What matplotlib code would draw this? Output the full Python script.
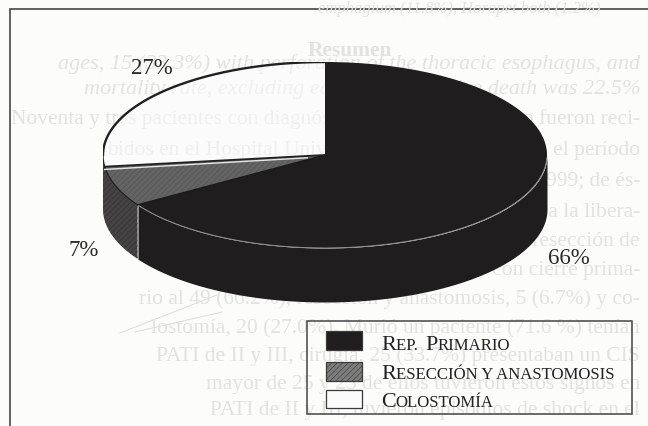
# coding=utf-8
import numpy as np
import matplotlib
matplotlib.use("Agg")
import matplotlib.pyplot as plt
from matplotlib.patches import Rectangle

W, H = 648, 426

# pie data, anticlockwise from the top of the ellipse
pie_names = ["Colostomía", "Resección y anastomosis", "Rep. Primario"]
pie_values = [27, 7, 66]
pie_colors = ["#fbfbfb", "#646464", "#1f1d1d"]

legend_rows = [
    [("R", 1), ("EP. ", .76), ("P", 1), ("RIMARIO", .76)],
    [("R", 1), ("ESECCIÓN Y ANASTOMOSIS", .76)],
    [("C", 1), ("OLOSTOMÍA", .76)],
]
legend_colors = ["#1f1d1d", "#7c7c7c", "#fbfbfb"]

# page behind showing through the scan
ghost_lines = [
    (600, 13, 12, "emphagium (11.8%), Horapet both (1.2%)", "italic", "normal"),
    (392, 56, 15.5, "Resumen", "normal", "bold"),
    (640, 69, 16, "ages, 15 (33.3%) with perforation of the thoracic esophagus, and", "italic", "normal"),
    (640, 94, 16, "mortality rate, excluding early postoperative death was 22.5%", "italic", "normal"),
    (640, 124, 15.5, "Noventa y tres pacientes con diagnóstico de trauma colónico fueron reci-", "normal", "normal"),
    (640, 155, 15.5, "bidos en el Hospital Universitario de Manizales, en el período", "normal", "normal"),
    (640, 186, 15.5, "comprendido entre enero de 1990 y diciembre de 1999; de és-", "normal", "normal"),
    (640, 217, 15.5, "tos, 74 (77.9%) fueron llevados a cirugía para la libera-", "normal", "normal"),
    (640, 246, 15.5, "ción quirúrgica, para manejo de laparotomía y resección de", "normal", "normal"),
    (640, 275, 15.5, "laminitana, que requirió manejo con cierre prima-", "normal", "normal"),
    (640, 304, 15.5, "rio al 49 (66.2%), resección y anastomosis, 5 (6.7%) y co-", "normal", "normal"),
    (640, 333, 15.5, "lostomía, 20 (27.0%). Murió un paciente (71.6 %) tenían", "normal", "normal"),
    (640, 361, 15.5, "PATI de II y III, cirugía, 25 (33.7%) presentaban un CIS", "normal", "normal"),
    (640, 389, 15.5, "mayor de 25 y 25 de ellos tuvieron estos signos en", "normal", "normal"),
    (640, 415, 15.5, "PATI de II y III, tuvieron episodios de shock en el", "normal", "normal"),
]

fig = plt.figure(figsize=(W / 100, H / 100), dpi=100, facecolor="#fcfcfb")
plt.rcParams["hatch.linewidth"] = 0.4
plt.rcParams["font.family"] = ["Liberation Serif", "DejaVu Serif"]

# overlay in pixel coordinates for frame, text and legend
bg = fig.add_axes([0, 0, 1, 1])
bg.set_xlim(0, W)
bg.set_ylim(H, 0)
bg.axis("off")

for x, y, size, s, style, weight in ghost_lines:
    bg.text(x, y, s, fontsize=size, color="#e2e2e0", style=style, weight=weight,
            ha="right", va="baseline")

# stray hairlines of the scan under the pie
bg.plot([120, 217], [333, 295], color="#dcdcdc", lw=0.7)
bg.plot([135, 222], [332, 312], color="#dcdcdc", lw=0.7)

bg.plot([648, 10, 10], [9, 9, 426], color="#555555", lw=1.3, solid_joinstyle="miter")

# pie axes, ellipse centre (325,155) half axes 222 x 93, wall 54 px high
cx, cy, a, b, depth_px = 325, 155, 222, 93, 54
depth = depth_px / b
left, right, top, bottom = cx - a, cx + a, cy - b, cy + b + depth_px
ax = fig.add_axes([left / W, 1 - bottom / H, (right - left) / W, (bottom - top) / H])
ax.patch.set_alpha(0)

wedges, _ = ax.pie(pie_values, colors=pie_colors, startangle=90, counterclock=True, radius=1,
                   wedgeprops={"linewidth": 0})
ax.set_aspect("auto")
ax.set_xlim(-1, 1)
ax.set_ylim(-1 - depth, 1)
ax.axis("off")
wedges[0].set_alpha(0.55)
wedges[1].set_hatch("//////")
wedges[1].set_edgecolor("#505050")

edges = 90 + np.cumsum([0] + pie_values) * 3.6


def arc(t0, t1):
    t = np.radians(np.linspace(t0, t1, 200))
    return np.cos(t), np.sin(t)


# side wall
x, y = arc(180, edges[2])
ax.fill_between(x, y, y - depth, color="#454343", hatch="//////", edgecolor="#2e2e2e", lw=0, zorder=2)
x, y = arc(edges[2], 360)
ax.fill_between(x, y, y - depth, color="#1f1d1d", lw=0, zorder=2)

# thin light lines left on the scan, along the front rim and the wedge boundary
x, y = arc(edges[2], 358)
ax.plot(x, y, color="#8e8e8e", lw=0.7, zorder=3)
x, y = arc(180, edges[2])
ax.plot(x, y, color="#202020", lw=0.9, zorder=3)
xb, yb = arc(edges[2], edges[2] + 1e-6)
ax.plot([xb[0], xb[0]], [yb[0], yb[0] - depth], color="#8e8e8e", lw=0.7, zorder=3)
ax.plot([0, xb[0]], [0, yb[0]], color="#1a1a1a", lw=1.0, zorder=3)

# dark outline of the white slice with the white line under it
x, y = arc(edges[0], 180)
ax.plot(x, y, color="#202020", lw=1.7, zorder=3)
xw, yw = arc(edges[1], edges[1] + 1e-6)
ax.plot([0, xw[0]], [0, yw[0]], color="#222222", lw=1.3, zorder=3)
ax.plot([-0.08, xw[0]], [-0.03, yw[0] - 0.03], color="#e6e6e6", lw=1.0, zorder=3)

# percentage labels, drawn on top
top_ax = fig.add_axes([0, 0, 1, 1])
top_ax.set_xlim(0, W)
top_ax.set_ylim(H, 0)
top_ax.axis("off")
label_pos = [(152, 69), (84, 250), (569, 259)]
for v, (px, py) in zip(pie_values, label_pos):
    top_ax.text(px, py, f"{v}%", fontsize=16.5, ha="center", va="center", color="#2a2a2a")

# legend
top_ax.add_patch(Rectangle((307, 321), 325, 93, fill=False, ec="#444444", lw=1.1))
swatches = [(331, 19), (362, 19), (390, 18)]
text_y = [343, 372, 400]
renderer = fig.canvas.get_renderer()
for color, (sy, sh), row, ty in zip(legend_colors, swatches, legend_rows, text_y):
    r = Rectangle((326, sy), 36, sh, facecolor=color, edgecolor="#3a3a3a", lw=0.9)
    if color == "#7c7c7c":
        r.set_hatch("//////")
    top_ax.add_patch(r)
    tx = 381
    for s, scale in row:
        t = top_ax.text(tx, ty + 7, s, fontsize=15.9 * scale, ha="left", va="baseline", color="#222222")
        tx += t.get_window_extent(renderer).width
        if s.endswith(" "):
            tx += 3

fig.savefig("out.png", dpi=100, facecolor=fig.get_facecolor())
